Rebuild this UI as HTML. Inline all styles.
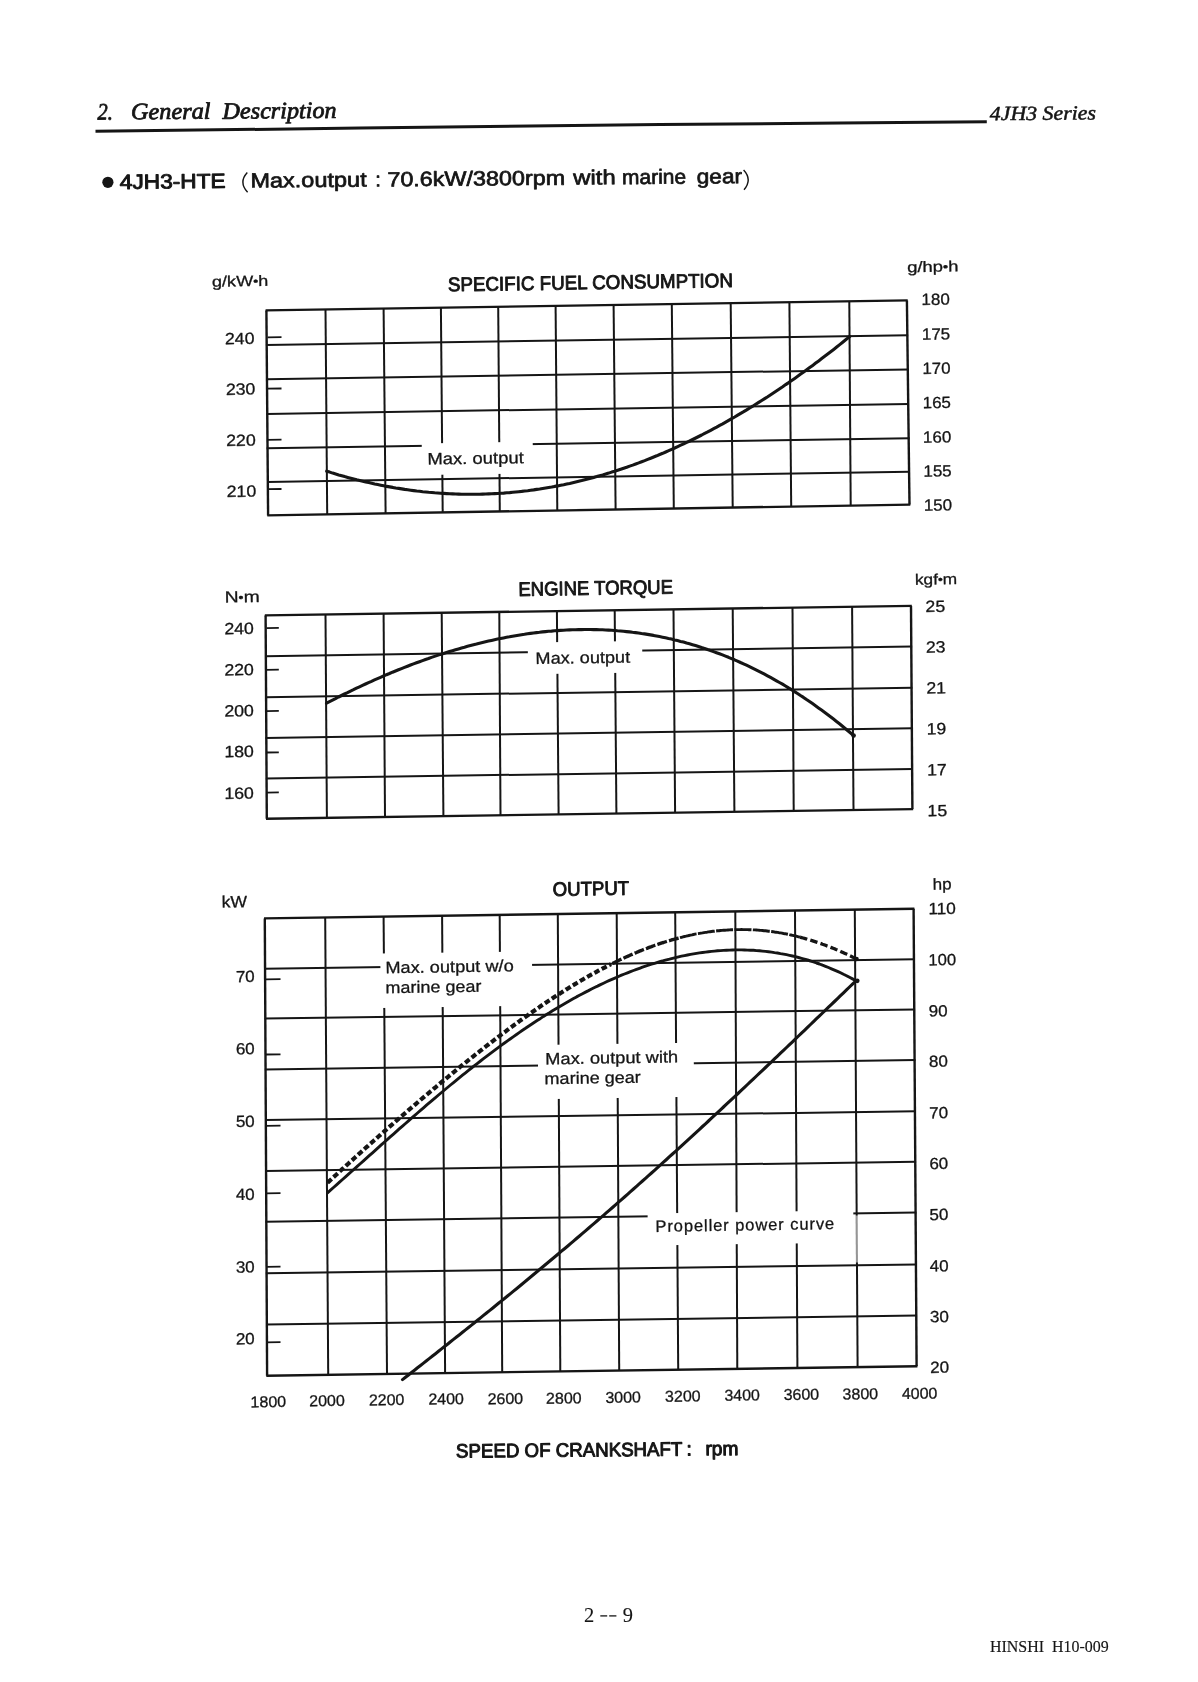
<!DOCTYPE html>
<html lang="en">
<head>
<meta charset="utf-8">
<title>4JH3 Series - General Description</title>
<style>
html,body{margin:0;padding:0;background:#fff;}
body{width:1198px;height:1682px;overflow:hidden;font-family:"Liberation Sans",sans-serif;}
svg{display:block;filter:grayscale(1);}
text{white-space:pre;}
</style>
</head>
<body>
<svg width="1198" height="1682" viewBox="0 0 1198 1682" stroke="#151515" fill="#151515">
<rect x="0" y="0" width="1198" height="1682" fill="#ffffff" stroke="none"/>
<g>
<text x="97.4" y="119.5" font-size="23.5" font-weight="normal" font-style="italic" stroke="#151515" stroke-width="0.8" stroke-linejoin="round" font-family="'Liberation Serif', sans-serif" text-anchor="start" textLength="15.4" lengthAdjust="spacingAndGlyphs" transform="rotate(-0.4 97.4 119.5)" >2.</text>
<text x="131.0" y="119.3" font-size="23.5" font-weight="normal" font-style="italic" stroke="#151515" stroke-width="0.8" stroke-linejoin="round" font-family="'Liberation Serif', sans-serif" text-anchor="start" textLength="79.6" lengthAdjust="spacingAndGlyphs" transform="rotate(-0.4 131.0 119.3)" >General</text>
<text x="222.6" y="118.7" font-size="23.5" font-weight="normal" font-style="italic" stroke="#151515" stroke-width="0.8" stroke-linejoin="round" font-family="'Liberation Serif', sans-serif" text-anchor="start" textLength="114.0" lengthAdjust="spacingAndGlyphs" transform="rotate(-0.4 222.6 118.7)" >Description</text>
<text x="989.8" y="120.2" font-size="20" font-weight="normal" font-style="italic" stroke="#151515" stroke-width="0.5" stroke-linejoin="round" font-family="'Liberation Serif', sans-serif" text-anchor="start" textLength="106.2" lengthAdjust="spacingAndGlyphs" transform="rotate(-0.4 989.8 120.2)" >4JH3 Series</text>
</g>
<polyline points="95.5,131.3 360,128.1 660,124.4 840,123.1 986.8,121.8" fill="none" stroke-width="3"/>
<circle cx="107.9" cy="182.3" r="5.6" stroke="none"/>
<text x="119.8" y="188.9" font-size="20.5" font-weight="normal" font-style="normal" stroke="#151515" stroke-width="0.95" stroke-linejoin="round" font-family="'Liberation Sans', sans-serif" text-anchor="start" textLength="105.9" lengthAdjust="spacingAndGlyphs" transform="rotate(-0.53 119.8 188.9)" >4JH3-HTE</text>
<text x="250.4" y="187.6" font-size="20.5" font-weight="normal" font-style="normal" stroke="#151515" stroke-width="0.7" stroke-linejoin="round" font-family="'Liberation Sans', sans-serif" text-anchor="start" textLength="116.3" lengthAdjust="spacingAndGlyphs" transform="rotate(-0.53 250.4 187.6)" >Max.output</text>
<text x="375.3" y="186.5" font-size="20.5" font-weight="normal" font-style="normal" stroke="#151515" stroke-width="0.7" stroke-linejoin="round" font-family="'Liberation Sans', sans-serif" text-anchor="start" transform="rotate(-0.53 375.3 186.5)" >:</text>
<text x="387.4" y="186.4" font-size="20.5" font-weight="normal" font-style="normal" stroke="#151515" stroke-width="0.7" stroke-linejoin="round" font-family="'Liberation Sans', sans-serif" text-anchor="start" textLength="177.9" lengthAdjust="spacingAndGlyphs" transform="rotate(-0.53 387.4 186.4)" >70.6kW/3800rpm</text>
<text x="573.3" y="184.6" font-size="20.5" font-weight="normal" font-style="normal" stroke="#151515" stroke-width="0.7" stroke-linejoin="round" font-family="'Liberation Sans', sans-serif" text-anchor="start" textLength="42.5" lengthAdjust="spacingAndGlyphs" transform="rotate(-0.53 573.3 184.6)" >with</text>
<text x="622.1" y="184.2" font-size="20.5" font-weight="normal" font-style="normal" stroke="#151515" stroke-width="0.7" stroke-linejoin="round" font-family="'Liberation Sans', sans-serif" text-anchor="start" textLength="64.1" lengthAdjust="spacingAndGlyphs" transform="rotate(-0.53 622.1 184.2)" >marine</text>
<text x="696.7" y="183.5" font-size="20.5" font-weight="normal" font-style="normal" stroke="#151515" stroke-width="0.7" stroke-linejoin="round" font-family="'Liberation Sans', sans-serif" text-anchor="start" textLength="45.4" lengthAdjust="spacingAndGlyphs" transform="rotate(-0.53 696.7 183.5)" >gear</text>
<path d="M247.3,172.5 Q238.3,182.2 247.6,192.3" fill="none" stroke-width="1.4"/>
<path d="M743.6,170.0 Q752.6,179.6 744.0,189.8" fill="none" stroke-width="1.4"/>
<line x1="266.4" y1="310.4" x2="268.1" y2="515.4" stroke-width="2.4" />
<line x1="325.5" y1="309.5" x2="327.2" y2="514.4" stroke-width="2.0" />
<line x1="383.6" y1="308.6" x2="385.6" y2="513.4" stroke-width="2.0" />
<line x1="440.9" y1="307.7" x2="442.7" y2="512.5" stroke-width="2.0" />
<line x1="498.2" y1="306.8" x2="499.8" y2="511.5" stroke-width="2.0" />
<line x1="555.6" y1="305.9" x2="557.3" y2="510.5" stroke-width="2.0" />
<line x1="613.6" y1="305.0" x2="615.6" y2="509.5" stroke-width="2.0" />
<line x1="671.8" y1="304.1" x2="673.8" y2="508.6" stroke-width="2.0" />
<line x1="730.7" y1="303.2" x2="732.7" y2="507.6" stroke-width="2.0" />
<line x1="789.4" y1="302.2" x2="791.2" y2="506.6" stroke-width="2.0" />
<line x1="849.3" y1="301.3" x2="850.7" y2="505.6" stroke-width="2.0" />
<line x1="906.9" y1="300.4" x2="909.5" y2="504.6" stroke-width="2.4" />
<line x1="265.6" y1="310.4" x2="907.7" y2="300.4" stroke-width="2.4" />
<line x1="265.9" y1="345.1" x2="908.1" y2="335.2" stroke-width="2.0" />
<line x1="266.2" y1="379.2" x2="908.6" y2="369.4" stroke-width="2.0" />
<line x1="266.5" y1="413.9" x2="909.0" y2="403.9" stroke-width="2.0" />
<line x1="266.7" y1="448.3" x2="909.5" y2="438.2" stroke-width="2.0" />
<line x1="267.0" y1="482.0" x2="909.9" y2="471.7" stroke-width="2.0" />
<line x1="267.3" y1="515.4" x2="910.3" y2="504.6" stroke-width="2.4" />
<rect x="421.7" y="443.4" width="111.0" height="31.6" fill="#fff" stroke="none" transform="rotate(-0.86 421.7 443.4)"/>
<line x1="267.5" y1="337.3" x2="281.5" y2="337.1" stroke-width="1.8" />
<line x1="267.5" y1="388.7" x2="281.5" y2="388.5" stroke-width="1.8" />
<line x1="267.5" y1="439.8" x2="281.5" y2="439.6" stroke-width="1.8" />
<line x1="267.5" y1="489.2" x2="281.5" y2="489.0" stroke-width="1.8" />
<path d="M326.7,471.2 L329.7,472.1 L332.7,473.1 L335.7,474.0 L338.7,474.9 L341.7,475.7 L344.7,476.6 L347.7,477.4 L350.7,478.2 L353.7,479.0 L356.7,479.8 L359.7,480.5 L362.7,481.2 L365.7,481.9 L368.7,482.6 L371.7,483.3 L374.7,484.0 L377.7,484.6 L380.7,485.2 L383.7,485.8 L386.7,486.4 L389.7,486.9 L392.7,487.4 L395.7,488.0 L398.7,488.4 L401.7,488.9 L404.7,489.4 L407.7,489.8 L410.7,490.2 L413.7,490.6 L416.7,491.0 L419.7,491.3 L422.7,491.7 L425.7,492.0 L428.7,492.3 L431.7,492.5 L434.7,492.8 L437.7,493.0 L440.7,493.2 L443.7,493.4 L446.7,493.6 L449.7,493.8 L452.7,493.9 L455.7,494.0 L458.7,494.1 L461.7,494.2 L464.7,494.2 L467.7,494.3 L470.7,494.3 L473.7,494.3 L476.7,494.2 L479.7,494.2 L482.7,494.1 L485.7,494.0 L488.7,493.9 L491.7,493.8 L494.7,493.6 L497.7,493.5 L500.7,493.3 L503.7,493.1 L506.7,492.8 L509.7,492.6 L512.7,492.3 L515.7,492.0 L518.7,491.7 L521.7,491.4 L524.7,491.0 L527.7,490.7 L530.7,490.3 L533.7,489.9 L536.7,489.4 L539.7,489.0 L542.7,488.5 L545.7,488.0 L548.7,487.5 L551.7,487.0 L554.7,486.4 L557.7,485.9 L560.7,485.3 L563.7,484.7 L566.7,484.0 L569.7,483.4 L572.7,482.7 L575.7,482.0 L578.7,481.3 L581.7,480.6 L584.7,479.8 L587.7,479.0 L590.7,478.2 L593.7,477.4 L596.7,476.6 L599.7,475.7 L602.7,474.9 L605.7,474.0 L608.7,473.1 L611.7,472.1 L614.7,471.2 L617.7,470.2 L620.7,469.2 L623.7,468.2 L626.7,467.2 L629.7,466.1 L632.7,465.1 L635.7,464.0 L638.7,462.9 L641.7,461.7 L644.7,460.6 L647.7,459.4 L650.7,458.2 L653.7,457.0 L656.7,455.8 L659.7,454.5 L662.7,453.3 L665.7,452.0 L668.7,450.7 L671.7,449.3 L674.7,448.0 L677.7,446.6 L680.7,445.2 L683.7,443.8 L686.7,442.4 L689.7,441.0 L692.7,439.5 L695.7,438.0 L698.7,436.5 L701.7,435.0 L704.7,433.4 L707.7,431.9 L710.7,430.3 L713.7,428.7 L716.7,427.1 L719.7,425.4 L722.7,423.8 L725.7,422.1 L728.7,420.4 L731.7,418.7 L734.7,417.0 L737.7,415.2 L740.7,413.4 L743.7,411.7 L746.7,409.9 L749.7,408.0 L752.7,406.2 L755.7,404.3 L758.7,402.4 L761.7,400.5 L764.7,398.6 L767.7,396.7 L770.7,394.7 L773.7,392.7 L776.7,390.7 L779.7,388.7 L782.7,386.7 L785.7,384.6 L788.7,382.6 L791.7,380.5 L794.7,378.4 L797.7,376.3 L800.7,374.1 L803.7,372.0 L806.7,369.8 L809.7,367.6 L812.7,365.4 L815.7,363.1 L818.7,360.9 L821.7,358.6 L824.7,356.3 L827.7,354.0 L830.7,351.7 L833.7,349.4 L836.7,347.0 L839.7,344.6 L842.7,342.2 L845.7,339.8 L848.7,337.4 L849.8,336.5" fill="none" stroke-width="3.1" stroke-linejoin="round" stroke-linecap="round"/>
<text x="225.0" y="344.3" font-size="16.3" font-weight="normal" font-style="normal" stroke="#151515" stroke-width="0.3" stroke-linejoin="round" font-family="'Liberation Sans', sans-serif" text-anchor="start" textLength="29.6" lengthAdjust="spacingAndGlyphs" transform="rotate(-0.86 225.0 344.3)" >240</text>
<text x="225.9" y="394.9" font-size="16.3" font-weight="normal" font-style="normal" stroke="#151515" stroke-width="0.3" stroke-linejoin="round" font-family="'Liberation Sans', sans-serif" text-anchor="start" textLength="29.6" lengthAdjust="spacingAndGlyphs" transform="rotate(-0.86 225.9 394.9)" >230</text>
<text x="226.2" y="446.1" font-size="16.3" font-weight="normal" font-style="normal" stroke="#151515" stroke-width="0.3" stroke-linejoin="round" font-family="'Liberation Sans', sans-serif" text-anchor="start" textLength="29.6" lengthAdjust="spacingAndGlyphs" transform="rotate(-0.86 226.2 446.1)" >220</text>
<text x="226.7" y="497.1" font-size="16.3" font-weight="normal" font-style="normal" stroke="#151515" stroke-width="0.3" stroke-linejoin="round" font-family="'Liberation Sans', sans-serif" text-anchor="start" textLength="29.6" lengthAdjust="spacingAndGlyphs" transform="rotate(-0.86 226.7 497.1)" >210</text>
<text x="921.6" y="305.1" font-size="16.3" font-weight="normal" font-style="normal" stroke="#151515" stroke-width="0.3" stroke-linejoin="round" font-family="'Liberation Sans', sans-serif" text-anchor="start" textLength="28.2" lengthAdjust="spacingAndGlyphs" transform="rotate(-0.86 921.6 305.1)" >180</text>
<text x="922.0" y="339.8" font-size="16.3" font-weight="normal" font-style="normal" stroke="#151515" stroke-width="0.3" stroke-linejoin="round" font-family="'Liberation Sans', sans-serif" text-anchor="start" textLength="28.2" lengthAdjust="spacingAndGlyphs" transform="rotate(-0.86 922.0 339.8)" >175</text>
<text x="922.4" y="374.1" font-size="16.3" font-weight="normal" font-style="normal" stroke="#151515" stroke-width="0.3" stroke-linejoin="round" font-family="'Liberation Sans', sans-serif" text-anchor="start" textLength="28.2" lengthAdjust="spacingAndGlyphs" transform="rotate(-0.86 922.4 374.1)" >170</text>
<text x="922.8" y="408.3" font-size="16.3" font-weight="normal" font-style="normal" stroke="#151515" stroke-width="0.3" stroke-linejoin="round" font-family="'Liberation Sans', sans-serif" text-anchor="start" textLength="28.2" lengthAdjust="spacingAndGlyphs" transform="rotate(-0.86 922.8 408.3)" >165</text>
<text x="923.1" y="442.8" font-size="16.3" font-weight="normal" font-style="normal" stroke="#151515" stroke-width="0.3" stroke-linejoin="round" font-family="'Liberation Sans', sans-serif" text-anchor="start" textLength="28.2" lengthAdjust="spacingAndGlyphs" transform="rotate(-0.86 923.1 442.8)" >160</text>
<text x="923.5" y="476.7" font-size="16.3" font-weight="normal" font-style="normal" stroke="#151515" stroke-width="0.3" stroke-linejoin="round" font-family="'Liberation Sans', sans-serif" text-anchor="start" textLength="28.2" lengthAdjust="spacingAndGlyphs" transform="rotate(-0.86 923.5 476.7)" >155</text>
<text x="923.9" y="510.8" font-size="16.3" font-weight="normal" font-style="normal" stroke="#151515" stroke-width="0.3" stroke-linejoin="round" font-family="'Liberation Sans', sans-serif" text-anchor="start" textLength="28.2" lengthAdjust="spacingAndGlyphs" transform="rotate(-0.86 923.9 510.8)" >150</text>
<text x="212.0" y="286.7" font-size="15" font-weight="normal" font-style="normal" stroke="#151515" stroke-width="0.3" stroke-linejoin="round" font-family="'Liberation Sans', sans-serif" text-anchor="start" textLength="56.4" lengthAdjust="spacingAndGlyphs" transform="rotate(-0.86 212.0 286.7)" >g/kW<tspan font-size="12" dy="-0.9">&#8226;</tspan><tspan dy="0.9">h</tspan></text>
<text x="907.2" y="272.2" font-size="15" font-weight="normal" font-style="normal" stroke="#151515" stroke-width="0.3" stroke-linejoin="round" font-family="'Liberation Sans', sans-serif" text-anchor="start" textLength="51.4" lengthAdjust="spacingAndGlyphs" transform="rotate(-0.86 907.2 272.2)" >g/hp<tspan font-size="12" dy="-0.9">&#8226;</tspan><tspan dy="0.9">h</tspan></text>
<text x="448.0" y="291.3" font-size="19.6" font-weight="normal" font-style="normal" stroke="#151515" stroke-width="0.9" stroke-linejoin="round" font-family="'Liberation Sans', sans-serif" text-anchor="start" textLength="285.0" lengthAdjust="spacingAndGlyphs" transform="rotate(-0.86 448.0 291.3)" >SPECIFIC FUEL CONSUMPTION</text>
<text x="427.5" y="464.6" font-size="16.5" font-weight="normal" font-style="normal" stroke="#151515" stroke-width="0.3" stroke-linejoin="round" font-family="'Liberation Sans', sans-serif" text-anchor="start" textLength="96.4" lengthAdjust="spacingAndGlyphs" transform="rotate(-0.86 427.5 464.6)" >Max. output</text>
<line x1="265.6" y1="615.4" x2="266.8" y2="818.8" stroke-width="2.4" />
<line x1="325.5" y1="614.5" x2="326.9" y2="817.9" stroke-width="2.0" />
<line x1="383.6" y1="613.7" x2="385.0" y2="817.0" stroke-width="2.0" />
<line x1="441.7" y1="612.8" x2="443.4" y2="816.1" stroke-width="2.0" />
<line x1="499.3" y1="612.0" x2="500.5" y2="815.3" stroke-width="2.0" />
<line x1="556.9" y1="611.1" x2="558.6" y2="814.4" stroke-width="2.0" />
<line x1="614.7" y1="610.3" x2="616.4" y2="813.5" stroke-width="2.0" />
<line x1="673.5" y1="609.4" x2="675.1" y2="812.7" stroke-width="2.0" />
<line x1="732.7" y1="608.5" x2="734.4" y2="811.8" stroke-width="2.0" />
<line x1="792.5" y1="607.6" x2="793.7" y2="810.9" stroke-width="2.0" />
<line x1="852.1" y1="606.8" x2="853.5" y2="810.0" stroke-width="2.0" />
<line x1="911.0" y1="605.9" x2="912.4" y2="809.1" stroke-width="2.4" />
<line x1="264.8" y1="615.4" x2="911.8" y2="605.9" stroke-width="2.4" />
<line x1="265.0" y1="656.3" x2="912.1" y2="646.5" stroke-width="2.0" />
<line x1="265.3" y1="697.2" x2="912.4" y2="687.7" stroke-width="2.0" />
<line x1="265.5" y1="738.0" x2="912.6" y2="728.3" stroke-width="2.0" />
<line x1="265.8" y1="778.4" x2="912.9" y2="769.0" stroke-width="2.0" />
<line x1="266.0" y1="818.8" x2="913.2" y2="809.1" stroke-width="2.4" />
<rect x="527.7" y="642.6" width="114.4" height="31.6" fill="#fff" stroke="none" transform="rotate(-0.86 527.7 642.6)"/>
<line x1="266.5" y1="628.1" x2="278.8" y2="627.9" stroke-width="1.8" />
<line x1="266.5" y1="669.8" x2="278.8" y2="669.6" stroke-width="1.8" />
<line x1="266.5" y1="711.1" x2="278.8" y2="710.9" stroke-width="1.8" />
<line x1="266.5" y1="752.5" x2="278.8" y2="752.3" stroke-width="1.8" />
<line x1="266.5" y1="792.6" x2="278.8" y2="792.4" stroke-width="1.8" />
<path d="M326.5,703.2 L329.5,701.6 L332.5,700.1 L335.5,698.6 L338.5,697.0 L341.5,695.5 L344.5,694.0 L347.5,692.6 L350.5,691.1 L353.5,689.7 L356.5,688.2 L359.5,686.8 L362.5,685.4 L365.5,684.0 L368.5,682.6 L371.5,681.3 L374.5,679.9 L377.5,678.6 L380.5,677.3 L383.5,676.0 L386.5,674.7 L389.5,673.5 L392.5,672.2 L395.5,671.0 L398.5,669.8 L401.5,668.6 L404.5,667.4 L407.5,666.2 L410.5,665.0 L413.5,663.9 L416.5,662.8 L419.5,661.7 L422.5,660.6 L425.5,659.5 L428.5,658.5 L431.5,657.4 L434.5,656.4 L437.5,655.4 L440.5,654.4 L443.5,653.5 L446.5,652.5 L449.5,651.6 L452.5,650.7 L455.5,649.8 L458.5,648.9 L461.5,648.0 L464.5,647.2 L467.5,646.3 L470.5,645.5 L473.5,644.7 L476.5,644.0 L479.5,643.2 L482.5,642.5 L485.5,641.8 L488.5,641.1 L491.5,640.4 L494.5,639.7 L497.5,639.1 L500.5,638.5 L503.5,637.9 L506.5,637.3 L509.5,636.8 L512.5,636.2 L515.5,635.7 L518.5,635.2 L521.5,634.7 L524.5,634.3 L527.5,633.8 L530.5,633.4 L533.5,633.0 L536.5,632.6 L539.5,632.3 L542.5,631.9 L545.5,631.6 L548.5,631.3 L551.5,631.1 L554.5,630.8 L557.5,630.6 L560.5,630.4 L563.5,630.2 L566.5,630.0 L569.5,629.9 L572.5,629.8 L575.5,629.7 L578.5,629.6 L581.5,629.6 L584.5,629.5 L587.5,629.5 L590.5,629.5 L593.5,629.6 L596.5,629.6 L599.5,629.7 L602.5,629.8 L605.5,630.0 L608.5,630.1 L611.5,630.3 L614.5,630.5 L617.5,630.8 L620.5,631.0 L623.5,631.3 L626.5,631.6 L629.5,631.9 L632.5,632.3 L635.5,632.6 L638.5,633.0 L641.5,633.5 L644.5,633.9 L647.5,634.4 L650.5,634.9 L653.5,635.4 L656.5,636.0 L659.5,636.6 L662.5,637.2 L665.5,637.8 L668.5,638.5 L671.5,639.1 L674.5,639.9 L677.5,640.6 L680.5,641.4 L683.5,642.1 L686.5,643.0 L689.5,643.8 L692.5,644.7 L695.5,645.6 L698.5,646.5 L701.5,647.5 L704.5,648.4 L707.5,649.5 L710.5,650.5 L713.5,651.6 L716.5,652.7 L719.5,653.8 L722.5,654.9 L725.5,656.1 L728.5,657.3 L731.5,658.6 L734.5,659.8 L737.5,661.1 L740.5,662.5 L743.5,663.8 L746.5,665.2 L749.5,666.6 L752.5,668.1 L755.5,669.6 L758.5,671.1 L761.5,672.6 L764.5,674.2 L767.5,675.8 L770.5,677.4 L773.5,679.1 L776.5,680.8 L779.5,682.5 L782.5,684.2 L785.5,686.0 L788.5,687.9 L791.5,689.7 L794.5,691.6 L797.5,693.5 L800.5,695.5 L803.5,697.4 L806.5,699.5 L809.5,701.5 L812.5,703.6 L815.5,705.7 L818.5,707.9 L821.5,710.0 L824.5,712.2 L827.5,714.5 L830.5,716.8 L833.5,719.1 L836.5,721.4 L839.5,723.8 L842.5,726.3 L845.5,728.7 L848.5,731.2 L851.5,733.7 L853.0,735.0" fill="none" stroke-width="3.1" stroke-linejoin="round" stroke-linecap="round"/>
<circle cx="853.6" cy="735.6" r="2.3" stroke="none"/>
<text x="224.4" y="634.3" font-size="16.3" font-weight="normal" font-style="normal" stroke="#151515" stroke-width="0.3" stroke-linejoin="round" font-family="'Liberation Sans', sans-serif" text-anchor="start" textLength="29.6" lengthAdjust="spacingAndGlyphs" transform="rotate(-0.86 224.4 634.3)" >240</text>
<text x="224.4" y="675.5" font-size="16.3" font-weight="normal" font-style="normal" stroke="#151515" stroke-width="0.3" stroke-linejoin="round" font-family="'Liberation Sans', sans-serif" text-anchor="start" textLength="29.6" lengthAdjust="spacingAndGlyphs" transform="rotate(-0.86 224.4 675.5)" >220</text>
<text x="224.4" y="716.6" font-size="16.3" font-weight="normal" font-style="normal" stroke="#151515" stroke-width="0.3" stroke-linejoin="round" font-family="'Liberation Sans', sans-serif" text-anchor="start" textLength="29.6" lengthAdjust="spacingAndGlyphs" transform="rotate(-0.86 224.4 716.6)" >200</text>
<text x="224.4" y="757.3" font-size="16.3" font-weight="normal" font-style="normal" stroke="#151515" stroke-width="0.3" stroke-linejoin="round" font-family="'Liberation Sans', sans-serif" text-anchor="start" textLength="29.6" lengthAdjust="spacingAndGlyphs" transform="rotate(-0.86 224.4 757.3)" >180</text>
<text x="224.4" y="799.1" font-size="16.3" font-weight="normal" font-style="normal" stroke="#151515" stroke-width="0.3" stroke-linejoin="round" font-family="'Liberation Sans', sans-serif" text-anchor="start" textLength="29.6" lengthAdjust="spacingAndGlyphs" transform="rotate(-0.86 224.4 799.1)" >160</text>
<text x="925.6" y="612.1" font-size="16.3" font-weight="normal" font-style="normal" stroke="#151515" stroke-width="0.3" stroke-linejoin="round" font-family="'Liberation Sans', sans-serif" text-anchor="start" textLength="19.6" lengthAdjust="spacingAndGlyphs" transform="rotate(-0.86 925.6 612.1)" >25</text>
<text x="926.0" y="652.7" font-size="16.3" font-weight="normal" font-style="normal" stroke="#151515" stroke-width="0.3" stroke-linejoin="round" font-family="'Liberation Sans', sans-serif" text-anchor="start" textLength="19.6" lengthAdjust="spacingAndGlyphs" transform="rotate(-0.86 926.0 652.7)" >23</text>
<text x="926.4" y="693.6" font-size="16.3" font-weight="normal" font-style="normal" stroke="#151515" stroke-width="0.3" stroke-linejoin="round" font-family="'Liberation Sans', sans-serif" text-anchor="start" textLength="19.6" lengthAdjust="spacingAndGlyphs" transform="rotate(-0.86 926.4 693.6)" >21</text>
<text x="926.8" y="734.5" font-size="16.3" font-weight="normal" font-style="normal" stroke="#151515" stroke-width="0.3" stroke-linejoin="round" font-family="'Liberation Sans', sans-serif" text-anchor="start" textLength="19.6" lengthAdjust="spacingAndGlyphs" transform="rotate(-0.86 926.8 734.5)" >19</text>
<text x="927.2" y="775.4" font-size="16.3" font-weight="normal" font-style="normal" stroke="#151515" stroke-width="0.3" stroke-linejoin="round" font-family="'Liberation Sans', sans-serif" text-anchor="start" textLength="19.6" lengthAdjust="spacingAndGlyphs" transform="rotate(-0.86 927.2 775.4)" >17</text>
<text x="927.6" y="816.3" font-size="16.3" font-weight="normal" font-style="normal" stroke="#151515" stroke-width="0.3" stroke-linejoin="round" font-family="'Liberation Sans', sans-serif" text-anchor="start" textLength="19.6" lengthAdjust="spacingAndGlyphs" transform="rotate(-0.86 927.6 816.3)" >15</text>
<text x="224.7" y="602.6" font-size="16" font-weight="normal" font-style="normal" stroke="#151515" stroke-width="0.3" stroke-linejoin="round" font-family="'Liberation Sans', sans-serif" text-anchor="start" textLength="35.1" lengthAdjust="spacingAndGlyphs" transform="rotate(-0.86 224.7 602.6)" >N<tspan font-size="12" dy="-0.9">&#8226;</tspan><tspan dy="0.9">m</tspan></text>
<text x="914.9" y="584.7" font-size="15" font-weight="normal" font-style="normal" stroke="#151515" stroke-width="0.3" stroke-linejoin="round" font-family="'Liberation Sans', sans-serif" text-anchor="start" textLength="42.4" lengthAdjust="spacingAndGlyphs" transform="rotate(-0.86 914.9 584.7)" >kgf<tspan font-size="12" dy="-0.9">&#8226;</tspan><tspan dy="0.9">m</tspan></text>
<text x="518.5" y="595.9" font-size="19.6" font-weight="normal" font-style="normal" stroke="#151515" stroke-width="0.9" stroke-linejoin="round" font-family="'Liberation Sans', sans-serif" text-anchor="start" textLength="154.6" lengthAdjust="spacingAndGlyphs" transform="rotate(-0.86 518.5 595.9)" >ENGINE TORQUE</text>
<text x="535.6" y="664.0" font-size="16.5" font-weight="normal" font-style="normal" stroke="#151515" stroke-width="0.3" stroke-linejoin="round" font-family="'Liberation Sans', sans-serif" text-anchor="start" textLength="94.6" lengthAdjust="spacingAndGlyphs" transform="rotate(-0.86 535.6 664.0)" >Max. output</text>
<line x1="264.8" y1="918.4" x2="267.1" y2="1375.7" stroke-width="2.4" />
<line x1="325.2" y1="917.5" x2="328.2" y2="1374.8" stroke-width="2.0" />
<line x1="383.6" y1="916.6" x2="387.0" y2="1373.9" stroke-width="2.0" />
<line x1="442.1" y1="915.7" x2="445.1" y2="1373.1" stroke-width="2.0" />
<line x1="499.7" y1="914.9" x2="502.2" y2="1372.3" stroke-width="2.0" />
<line x1="557.8" y1="914.0" x2="560.3" y2="1371.4" stroke-width="2.0" />
<line x1="616.7" y1="913.1" x2="619.2" y2="1370.5" stroke-width="2.0" />
<line x1="675.2" y1="912.3" x2="678.2" y2="1369.7" stroke-width="2.0" />
<line x1="735.3" y1="911.4" x2="737.3" y2="1368.8" stroke-width="2.0" />
<line x1="795.0" y1="910.5" x2="797.4" y2="1367.9" stroke-width="2.0" />
<line x1="854.8" y1="909.6" x2="857.6" y2="1367.1" stroke-width="2.0" />
<line x1="913.6" y1="908.7" x2="916.6" y2="1366.2" stroke-width="2.4" />
<line x1="264.0" y1="918.4" x2="914.4" y2="908.7" stroke-width="2.4" />
<line x1="264.3" y1="968.8" x2="914.7" y2="959.3" stroke-width="2.0" />
<line x1="264.5" y1="1018.6" x2="915.1" y2="1009.4" stroke-width="2.0" />
<line x1="264.8" y1="1069.5" x2="915.4" y2="1060.0" stroke-width="2.0" />
<line x1="265.0" y1="1120.1" x2="915.7" y2="1111.3" stroke-width="2.0" />
<line x1="265.3" y1="1170.9" x2="916.1" y2="1161.7" stroke-width="2.0" />
<line x1="265.5" y1="1221.8" x2="916.4" y2="1212.6" stroke-width="2.0" />
<line x1="265.8" y1="1273.2" x2="916.7" y2="1264.4" stroke-width="2.0" />
<line x1="266.0" y1="1324.5" x2="917.1" y2="1315.6" stroke-width="2.0" />
<line x1="266.3" y1="1375.7" x2="917.4" y2="1366.2" stroke-width="2.4" />
<rect x="380.2" y="953.6" width="151.7" height="54.4" fill="#fff" stroke="none" transform="rotate(-0.86 380.2 953.6)"/>
<rect x="537.7" y="1045.0" width="155.8" height="54.2" fill="#fff" stroke="none" transform="rotate(-0.86 537.7 1045.0)"/>
<rect x="647.6" y="1213.5" width="205.7" height="32.1" fill="#fff" stroke="none" transform="rotate(-0.86 647.6 1213.5)"/>
<line x1="266.0" y1="979.4" x2="280.5" y2="979.2" stroke-width="1.8" />
<line x1="266.0" y1="1054.5" x2="280.5" y2="1054.3" stroke-width="1.8" />
<line x1="266.0" y1="1125.8" x2="280.5" y2="1125.6" stroke-width="1.8" />
<line x1="266.0" y1="1193.4" x2="280.5" y2="1193.2" stroke-width="1.8" />
<line x1="266.0" y1="1266.9" x2="280.5" y2="1266.7" stroke-width="1.8" />
<line x1="266.0" y1="1342.4" x2="280.5" y2="1342.2" stroke-width="1.8" />
<path d="M327.5,1182.8 L329.0,1181.4 L330.5,1180.0 L332.0,1178.6 L333.5,1177.2 L335.0,1175.8 L336.5,1174.5 L338.0,1173.1 L339.5,1171.7 L341.0,1170.3 L342.5,1168.9 L344.0,1167.6 L345.5,1166.2 L347.0,1164.8 L348.5,1163.5 L350.0,1162.1 L351.5,1160.7 L353.0,1159.4 L354.5,1158.0 L356.0,1156.7 L357.5,1155.3 L359.0,1153.9 L360.5,1152.6 L362.0,1151.2 L363.5,1149.9 L365.0,1148.5 L366.5,1147.2 L368.0,1145.9 L369.5,1144.5 L371.0,1143.2 L372.5,1141.8 L374.0,1140.5 L375.5,1139.2 L377.0,1137.8 L378.5,1136.5 L380.0,1135.2 L381.5,1133.8 L383.0,1132.5 L384.5,1131.2 L386.0,1129.9 L387.5,1128.5 L389.0,1127.2 L390.5,1125.9 L392.0,1124.6 L393.5,1123.3 L395.0,1122.0 L396.5,1120.7 L398.0,1119.3 L399.5,1118.0 L401.0,1116.7 L402.5,1115.4 L404.0,1114.1 L405.5,1112.8 L407.0,1111.5 L408.5,1110.2 L410.0,1108.9 L411.5,1107.7 L413.0,1106.4 L414.5,1105.1 L416.0,1103.8 L417.5,1102.5 L419.0,1101.2 L420.5,1099.9 L422.0,1098.7 L423.5,1097.4 L425.0,1096.1 L426.5,1094.8 L428.0,1093.6 L429.5,1092.3 L431.0,1091.0 L432.5,1089.8 L434.0,1088.5 L435.5,1087.3 L437.0,1086.0 L438.5,1084.7 L440.0,1083.5 L441.5,1082.2 L443.0,1081.0 L444.5,1079.8 L446.0,1078.5 L447.5,1077.3 L449.0,1076.0 L450.5,1074.8 L452.0,1073.6 L453.5,1072.3 L455.0,1071.1 L456.5,1069.9 L458.0,1068.7 L459.5,1067.4 L461.0,1066.2 L462.5,1065.0 L464.0,1063.8 L465.5,1062.6 L467.0,1061.4 L468.5,1060.2 L470.0,1059.0 L471.5,1057.8 L473.0,1056.6 L474.5,1055.4 L476.0,1054.2 L477.5,1053.0 L479.0,1051.8 L480.5,1050.6 L482.0,1049.5 L483.5,1048.3 L485.0,1047.1 L486.5,1045.9 L488.0,1044.8 L489.5,1043.6 L491.0,1042.5 L492.5,1041.3 L494.0,1040.1 L495.5,1039.0 L497.0,1037.9 L498.5,1036.7 L500.0,1035.6 L501.5,1034.4 L503.0,1033.3 L504.5,1032.2 L506.0,1031.1 L507.5,1029.9 L509.0,1028.8 L510.5,1027.7 L512.0,1026.6 L513.5,1025.5 L515.0,1024.4 L516.5,1023.3 L518.0,1022.2 L519.5,1021.1 L521.0,1020.0 L522.5,1019.0 L524.0,1017.9 L525.5,1016.8 L527.0,1015.7 L528.5,1014.7 L530.0,1013.6 L531.5,1012.6 L533.0,1011.5 L534.5,1010.5 L536.0,1009.4 L537.5,1008.4 L539.0,1007.4 L540.5,1006.3 L542.0,1005.3 L543.5,1004.3 L545.0,1003.3 L546.5,1002.3 L548.0,1001.3 L549.5,1000.3 L551.0,999.3 L552.5,998.3 L554.0,997.3 L555.5,996.3 L557.0,995.4 L558.5,994.4 L560.0,993.4 L561.5,992.5 L563.0,991.5 L564.5,990.6 L566.0,989.6 L567.5,988.7 L569.0,987.8 L570.5,986.9 L572.0,985.9 L573.5,985.0 L575.0,984.1 L576.5,983.2 L578.0,982.3 L579.5,981.4 L581.0,980.5 L582.5,979.7 L584.0,978.8 L585.5,977.9 L587.0,977.1 L588.5,976.2 L590.0,975.4 L591.5,974.5 L593.0,973.7 L594.5,972.9 L596.0,972.1 L597.5,971.2 L599.0,970.4 L600.5,969.6 L602.0,968.8 L603.5,968.0 L605.0,967.3 L606.5,966.5 L608.0,965.7 L609.5,965.0 L611.0,964.2" fill="none" stroke-width="4.2" stroke-linejoin="round" stroke-dasharray="5.6 2.7" stroke-linecap="butt"/>
<path d="M612.5,963.5 L614.0,962.7 L615.5,962.0 L617.0,961.3 L618.5,960.5 L620.0,959.8 L621.5,959.1 L623.0,958.4 L624.5,957.7 L626.0,957.0 L627.5,956.4 L629.0,955.7 L630.5,955.0 L632.0,954.4 L633.5,953.7 L635.0,953.1 L636.5,952.5 L638.0,951.8 L639.5,951.2 L641.0,950.6 L642.5,950.0 L644.0,949.4 L645.5,948.8 L647.0,948.3 L648.5,947.7 L650.0,947.1 L651.5,946.6 L653.0,946.0 L654.5,945.5 L656.0,945.0 L657.5,944.5 L659.0,943.9 L660.5,943.4 L662.0,942.9 L663.5,942.5 L665.0,942.0 L666.5,941.5 L668.0,941.0 L669.5,940.6 L671.0,940.2 L672.5,939.7 L674.0,939.3 L675.5,938.9 L677.0,938.5 L678.5,938.1 L680.0,937.7" fill="none" stroke-width="3.4" stroke-linejoin="round" stroke-dasharray="10 2.2" stroke-linecap="butt"/>
<path d="M680.0,937.7 L681.5,937.3 L683.0,936.9 L684.5,936.5 L686.0,936.2 L687.5,935.8 L689.0,935.5 L690.5,935.2 L692.0,934.9 L693.5,934.5 L695.0,934.2 L696.5,933.9 L698.0,933.7 L699.5,933.4 L701.0,933.1 L702.5,932.9 L704.0,932.6 L705.5,932.4 L707.0,932.2 L708.5,931.9 L710.0,931.7 L711.5,931.5 L713.0,931.3 L714.5,931.2 L716.0,931.0 L717.5,930.8 L719.0,930.7 L720.5,930.5 L722.0,930.4 L723.5,930.3 L725.0,930.2 L726.5,930.1 L728.0,930.0 L729.5,929.9 L731.0,929.8 L732.5,929.7 L734.0,929.7 L735.5,929.6 L737.0,929.6 L738.5,929.6 L740.0,929.6 L741.5,929.5 L743.0,929.6 L744.5,929.6 L746.0,929.6 L747.5,929.6 L749.0,929.7 L750.5,929.7 L752.0,929.8 L753.5,929.9 L755.0,929.9 L756.5,930.0 L758.0,930.1 L759.5,930.3 L761.0,930.4 L762.5,930.5 L764.0,930.7 L765.5,930.8 L767.0,931.0 L768.5,931.2 L770.0,931.3 L771.5,931.5 L773.0,931.7 L774.5,932.0 L776.0,932.2 L777.5,932.4 L779.0,932.7 L780.5,932.9 L782.0,933.2 L783.5,933.5 L785.0,933.7 L786.5,934.0 L788.0,934.3 L789.5,934.7 L791.0,935.0 L792.5,935.3 L794.0,935.7 L795.5,936.0 L797.0,936.4 L798.5,936.8 L800.0,937.2" fill="none" stroke-width="2.9" stroke-linejoin="round" stroke-dasharray="17 1.4" stroke-linecap="butt"/>
<path d="M800.0,937.2 L801.5,937.6 L803.0,938.0 L804.5,938.4 L806.0,938.8 L807.5,939.3 L809.0,939.7 L810.5,940.2 L812.0,940.6 L813.5,941.1 L815.0,941.6 L816.5,942.1 L818.0,942.6 L819.5,943.1 L821.0,943.6 L822.5,944.2 L824.0,944.7 L825.5,945.3 L827.0,945.9 L828.5,946.4 L830.0,947.0 L831.5,947.6 L833.0,948.2 L834.5,948.8 L836.0,949.5 L837.5,950.1 L839.0,950.7 L840.5,951.4 L842.0,952.1 L843.5,952.7 L845.0,953.4 L846.5,954.1 L848.0,954.8 L849.5,955.5 L851.0,956.2 L852.5,957.0 L854.0,957.7 L855.4,958.4" fill="none" stroke-width="3.3" stroke-linejoin="round" stroke-dasharray="7.5 3.2" stroke-linecap="butt"/>
<path d="M327.5,1192.8 L330.5,1190.2 L333.5,1187.5 L336.5,1184.9 L339.5,1182.2 L342.5,1179.5 L345.5,1176.9 L348.5,1174.2 L351.5,1171.5 L354.5,1168.9 L357.5,1166.2 L360.5,1163.5 L363.5,1160.8 L366.5,1158.1 L369.5,1155.4 L372.5,1152.8 L375.5,1150.1 L378.5,1147.4 L381.5,1144.7 L384.5,1142.0 L387.5,1139.4 L390.5,1136.7 L393.5,1134.1 L396.5,1131.4 L399.5,1128.7 L402.5,1126.1 L405.5,1123.5 L408.5,1120.8 L411.5,1118.2 L414.5,1115.6 L417.5,1113.0 L420.5,1110.4 L423.5,1107.8 L426.5,1105.2 L429.5,1102.7 L432.5,1100.1 L435.5,1097.6 L438.5,1095.0 L441.5,1092.5 L444.5,1090.0 L447.5,1087.5 L450.5,1085.0 L453.5,1082.6 L456.5,1080.1 L459.5,1077.7 L462.5,1075.2 L465.5,1072.8 L468.5,1070.4 L471.5,1068.0 L474.5,1065.7 L477.5,1063.3 L480.5,1061.0 L483.5,1058.7 L486.5,1056.4 L489.5,1054.1 L492.5,1051.9 L495.5,1049.6 L498.5,1047.4 L501.5,1045.2 L504.5,1043.0 L507.5,1040.8 L510.5,1038.7 L513.5,1036.6 L516.5,1034.5 L519.5,1032.4 L522.5,1030.3 L525.5,1028.3 L528.5,1026.2 L531.5,1024.2 L534.5,1022.2 L537.5,1020.3 L540.5,1018.4 L543.5,1016.4 L546.5,1014.5 L549.5,1012.7 L552.5,1010.8 L555.5,1009.0 L558.5,1007.2 L561.5,1005.4 L564.5,1003.7 L567.5,1002.0 L570.5,1000.3 L573.5,998.6 L576.5,996.9 L579.5,995.3 L582.5,993.7 L585.5,992.1 L588.5,990.6 L591.5,989.0 L594.5,987.5 L597.5,986.1 L600.5,984.6 L603.5,983.2 L606.5,981.8 L609.5,980.4 L612.5,979.1 L615.5,977.8 L618.5,976.5 L621.5,975.2 L624.5,974.0 L627.5,972.8 L630.5,971.6 L633.5,970.5 L636.5,969.4 L639.5,968.3 L642.5,967.2 L645.5,966.2 L648.5,965.2 L651.5,964.2 L654.5,963.3 L657.5,962.4 L660.5,961.5 L663.5,960.7 L666.5,959.8 L669.5,959.1 L672.5,958.3 L675.5,957.6 L678.5,956.9 L681.5,956.2 L684.5,955.6 L687.5,955.0 L690.5,954.4 L693.5,953.9 L696.5,953.4 L699.5,952.9 L702.5,952.5 L705.5,952.1 L708.5,951.7 L711.5,951.4 L714.5,951.1 L717.5,950.8 L720.5,950.6 L723.5,950.4 L726.5,950.2 L729.5,950.1 L732.5,950.0 L735.5,949.9 L738.5,949.9 L741.5,949.9 L744.5,950.0 L747.5,950.1 L750.5,950.2 L753.5,950.3 L756.5,950.6 L759.5,950.8 L762.5,951.1 L765.5,951.4 L768.5,951.7 L771.5,952.1 L774.5,952.6 L777.5,953.0 L780.5,953.6 L783.5,954.1 L786.5,954.7 L789.5,955.3 L792.5,956.0 L795.5,956.7 L798.5,957.5 L801.5,958.3 L804.5,959.1 L807.5,960.0 L810.5,961.0 L813.5,961.9 L816.5,963.0 L819.5,964.0 L822.5,965.2 L825.5,966.3 L828.5,967.5 L831.5,968.8 L834.5,970.1 L837.5,971.4 L840.5,972.8 L843.5,974.3 L846.5,975.7 L849.5,977.3 L852.5,978.9 L855.5,980.5 L856.0,980.8" fill="none" stroke-width="2.9" stroke-linejoin="round" stroke-linecap="round"/>
<path d="M402.5,1379.6 L405.5,1377.2 L408.5,1374.9 L411.5,1372.5 L414.5,1370.2 L417.5,1367.8 L420.5,1365.5 L423.5,1363.1 L426.5,1360.8 L429.5,1358.4 L432.5,1356.0 L435.5,1353.7 L438.5,1351.3 L441.5,1348.9 L444.5,1346.6 L447.5,1344.2 L450.5,1341.8 L453.5,1339.4 L456.5,1337.0 L459.5,1334.7 L462.5,1332.3 L465.5,1329.9 L468.5,1327.5 L471.5,1325.1 L474.5,1322.7 L477.5,1320.3 L480.5,1317.9 L483.5,1315.4 L486.5,1313.0 L489.5,1310.6 L492.5,1308.2 L495.5,1305.8 L498.5,1303.3 L501.5,1300.9 L504.5,1298.5 L507.5,1296.0 L510.5,1293.6 L513.5,1291.1 L516.5,1288.7 L519.5,1286.2 L522.5,1283.7 L525.5,1281.3 L528.5,1278.8 L531.5,1276.3 L534.5,1273.8 L537.5,1271.3 L540.5,1268.8 L543.5,1266.3 L546.5,1263.8 L549.5,1261.3 L552.5,1258.8 L555.5,1256.3 L558.5,1253.8 L561.5,1251.2 L564.5,1248.7 L567.5,1246.2 L570.5,1243.6 L573.5,1241.1 L576.5,1238.5 L579.5,1236.0 L582.5,1233.4 L585.5,1230.8 L588.5,1228.3 L591.5,1225.7 L594.5,1223.1 L597.5,1220.5 L600.5,1217.9 L603.5,1215.3 L606.5,1212.7 L609.5,1210.1 L612.5,1207.5 L615.5,1204.9 L618.5,1202.2 L621.5,1199.6 L624.5,1197.0 L627.5,1194.3 L630.5,1191.7 L633.5,1189.0 L636.5,1186.3 L639.5,1183.7 L642.5,1181.0 L645.5,1178.3 L648.5,1175.7 L651.5,1173.0 L654.5,1170.3 L657.5,1167.6 L660.5,1164.9 L663.5,1162.2 L666.5,1159.5 L669.5,1156.7 L672.5,1154.0 L675.5,1151.3 L678.5,1148.6 L681.5,1145.8 L684.5,1143.1 L687.5,1140.3 L690.5,1137.6 L693.5,1134.8 L696.5,1132.1 L699.5,1129.3 L702.5,1126.5 L705.5,1123.8 L708.5,1121.0 L711.5,1118.2 L714.5,1115.4 L717.5,1112.6 L720.5,1109.8 L723.5,1107.0 L726.5,1104.2 L729.5,1101.4 L732.5,1098.6 L735.5,1095.8 L738.5,1093.0 L741.5,1090.2 L744.5,1087.4 L747.5,1084.5 L750.5,1081.7 L753.5,1078.9 L756.5,1076.0 L759.5,1073.2 L762.5,1070.3 L765.5,1067.5 L768.5,1064.6 L771.5,1061.8 L774.5,1058.9 L777.5,1056.1 L780.5,1053.2 L783.5,1050.4 L786.5,1047.5 L789.5,1044.6 L792.5,1041.8 L795.5,1038.9 L798.5,1036.0 L801.5,1033.1 L804.5,1030.3 L807.5,1027.4 L810.5,1024.5 L813.5,1021.6 L816.5,1018.7 L819.5,1015.9 L822.5,1013.0 L825.5,1010.1 L828.5,1007.2 L831.5,1004.3 L834.5,1001.5 L837.5,998.6 L840.5,995.7 L843.5,992.8 L846.5,989.9 L849.5,987.0 L852.5,984.2 L855.5,981.3 L856.0,980.8" fill="none" stroke-width="3.1" stroke-linejoin="round" stroke-linecap="round"/>
<line x1="856.9" y1="1215.5" x2="857.2" y2="1262.5" stroke="#fff" stroke-opacity="0.55" stroke-width="3.2"/>
<circle cx="856.6" cy="959.0" r="2.2" stroke="none"/>
<circle cx="857.2" cy="980.8" r="2.4" stroke="none"/>
<text x="235.9" y="982.2" font-size="16.3" font-weight="normal" font-style="normal" stroke="#151515" stroke-width="0.3" stroke-linejoin="round" font-family="'Liberation Sans', sans-serif" text-anchor="start" textLength="18.9" lengthAdjust="spacingAndGlyphs" transform="rotate(-0.86 235.9 982.2)" >70</text>
<text x="235.9" y="1054.5" font-size="16.3" font-weight="normal" font-style="normal" stroke="#151515" stroke-width="0.3" stroke-linejoin="round" font-family="'Liberation Sans', sans-serif" text-anchor="start" textLength="18.9" lengthAdjust="spacingAndGlyphs" transform="rotate(-0.86 235.9 1054.5)" >60</text>
<text x="235.9" y="1127.1" font-size="16.3" font-weight="normal" font-style="normal" stroke="#151515" stroke-width="0.3" stroke-linejoin="round" font-family="'Liberation Sans', sans-serif" text-anchor="start" textLength="18.9" lengthAdjust="spacingAndGlyphs" transform="rotate(-0.86 235.9 1127.1)" >50</text>
<text x="235.9" y="1200.1" font-size="16.3" font-weight="normal" font-style="normal" stroke="#151515" stroke-width="0.3" stroke-linejoin="round" font-family="'Liberation Sans', sans-serif" text-anchor="start" textLength="18.9" lengthAdjust="spacingAndGlyphs" transform="rotate(-0.86 235.9 1200.1)" >40</text>
<text x="235.9" y="1272.7" font-size="16.3" font-weight="normal" font-style="normal" stroke="#151515" stroke-width="0.3" stroke-linejoin="round" font-family="'Liberation Sans', sans-serif" text-anchor="start" textLength="18.9" lengthAdjust="spacingAndGlyphs" transform="rotate(-0.86 235.9 1272.7)" >30</text>
<text x="235.9" y="1344.5" font-size="16.3" font-weight="normal" font-style="normal" stroke="#151515" stroke-width="0.3" stroke-linejoin="round" font-family="'Liberation Sans', sans-serif" text-anchor="start" textLength="18.9" lengthAdjust="spacingAndGlyphs" transform="rotate(-0.86 235.9 1344.5)" >20</text>
<text x="928.4" y="914.3" font-size="16.3" font-weight="normal" font-style="normal" stroke="#151515" stroke-width="0.3" stroke-linejoin="round" font-family="'Liberation Sans', sans-serif" text-anchor="start" textLength="27.6" lengthAdjust="spacingAndGlyphs" transform="rotate(-0.86 928.4 914.3)" >110</text>
<text x="928.6" y="965.5" font-size="16.3" font-weight="normal" font-style="normal" stroke="#151515" stroke-width="0.3" stroke-linejoin="round" font-family="'Liberation Sans', sans-serif" text-anchor="start" textLength="27.6" lengthAdjust="spacingAndGlyphs" transform="rotate(-0.86 928.6 965.5)" >100</text>
<text x="928.8" y="1016.6" font-size="16.3" font-weight="normal" font-style="normal" stroke="#151515" stroke-width="0.3" stroke-linejoin="round" font-family="'Liberation Sans', sans-serif" text-anchor="start" textLength="18.9" lengthAdjust="spacingAndGlyphs" transform="rotate(-0.86 928.8 1016.6)" >90</text>
<text x="929.0" y="1067.0" font-size="16.3" font-weight="normal" font-style="normal" stroke="#151515" stroke-width="0.3" stroke-linejoin="round" font-family="'Liberation Sans', sans-serif" text-anchor="start" textLength="18.9" lengthAdjust="spacingAndGlyphs" transform="rotate(-0.86 929.0 1067.0)" >80</text>
<text x="929.2" y="1118.4" font-size="16.3" font-weight="normal" font-style="normal" stroke="#151515" stroke-width="0.3" stroke-linejoin="round" font-family="'Liberation Sans', sans-serif" text-anchor="start" textLength="18.9" lengthAdjust="spacingAndGlyphs" transform="rotate(-0.86 929.2 1118.4)" >70</text>
<text x="929.4" y="1169.2" font-size="16.3" font-weight="normal" font-style="normal" stroke="#151515" stroke-width="0.3" stroke-linejoin="round" font-family="'Liberation Sans', sans-serif" text-anchor="start" textLength="18.9" lengthAdjust="spacingAndGlyphs" transform="rotate(-0.86 929.4 1169.2)" >60</text>
<text x="929.6" y="1220.2" font-size="16.3" font-weight="normal" font-style="normal" stroke="#151515" stroke-width="0.3" stroke-linejoin="round" font-family="'Liberation Sans', sans-serif" text-anchor="start" textLength="18.9" lengthAdjust="spacingAndGlyphs" transform="rotate(-0.86 929.6 1220.2)" >50</text>
<text x="929.8" y="1271.6" font-size="16.3" font-weight="normal" font-style="normal" stroke="#151515" stroke-width="0.3" stroke-linejoin="round" font-family="'Liberation Sans', sans-serif" text-anchor="start" textLength="18.9" lengthAdjust="spacingAndGlyphs" transform="rotate(-0.86 929.8 1271.6)" >40</text>
<text x="930.0" y="1322.3" font-size="16.3" font-weight="normal" font-style="normal" stroke="#151515" stroke-width="0.3" stroke-linejoin="round" font-family="'Liberation Sans', sans-serif" text-anchor="start" textLength="18.9" lengthAdjust="spacingAndGlyphs" transform="rotate(-0.86 930.0 1322.3)" >30</text>
<text x="930.2" y="1372.9" font-size="16.3" font-weight="normal" font-style="normal" stroke="#151515" stroke-width="0.3" stroke-linejoin="round" font-family="'Liberation Sans', sans-serif" text-anchor="start" textLength="18.9" lengthAdjust="spacingAndGlyphs" transform="rotate(-0.86 930.2 1372.9)" >20</text>
<text x="221.7" y="907.6" font-size="16.5" font-weight="normal" font-style="normal" stroke="#151515" stroke-width="0.3" stroke-linejoin="round" font-family="'Liberation Sans', sans-serif" text-anchor="start" textLength="25.4" lengthAdjust="spacingAndGlyphs" transform="rotate(-0.86 221.7 907.6)" >kW</text>
<text x="932.8" y="889.7" font-size="16" font-weight="normal" font-style="normal" stroke="#151515" stroke-width="0.3" stroke-linejoin="round" font-family="'Liberation Sans', sans-serif" text-anchor="start" textLength="18.8" lengthAdjust="spacingAndGlyphs" transform="rotate(-0.86 932.8 889.7)" >hp</text>
<text x="552.8" y="895.9" font-size="19.6" font-weight="normal" font-style="normal" stroke="#151515" stroke-width="0.9" stroke-linejoin="round" font-family="'Liberation Sans', sans-serif" text-anchor="start" textLength="76.4" lengthAdjust="spacingAndGlyphs" transform="rotate(-0.86 552.8 895.9)" >OUTPUT</text>
<text x="385.4" y="973.3" font-size="16.5" font-weight="normal" font-style="normal" stroke="#151515" stroke-width="0.3" stroke-linejoin="round" font-family="'Liberation Sans', sans-serif" text-anchor="start" textLength="128.4" lengthAdjust="spacingAndGlyphs" transform="rotate(-0.86 385.4 973.3)" >Max. output w/o</text>
<text x="385.6" y="993.2" font-size="16.5" font-weight="normal" font-style="normal" stroke="#151515" stroke-width="0.3" stroke-linejoin="round" font-family="'Liberation Sans', sans-serif" text-anchor="start" textLength="95.9" lengthAdjust="spacingAndGlyphs" transform="rotate(-0.86 385.6 993.2)" >marine gear</text>
<text x="545.3" y="1064.4" font-size="16.5" font-weight="normal" font-style="normal" stroke="#151515" stroke-width="0.3" stroke-linejoin="round" font-family="'Liberation Sans', sans-serif" text-anchor="start" textLength="132.9" lengthAdjust="spacingAndGlyphs" transform="rotate(-0.86 545.3 1064.4)" >Max. output with</text>
<text x="544.6" y="1084.2" font-size="16.5" font-weight="normal" font-style="normal" stroke="#151515" stroke-width="0.3" stroke-linejoin="round" font-family="'Liberation Sans', sans-serif" text-anchor="start" textLength="96.3" lengthAdjust="spacingAndGlyphs" transform="rotate(-0.86 544.6 1084.2)" >marine gear</text>
<text x="655.5" y="1231.9" font-size="16.5" font-weight="normal" font-style="normal" stroke="#151515" stroke-width="0.3" stroke-linejoin="round" font-family="'Liberation Sans', sans-serif" text-anchor="start" textLength="178.8" lengthAdjust="spacing" transform="rotate(-0.86 655.5 1231.9)" >Propeller power curve</text>
<text x="250.6" y="1407.5" font-size="15.8" font-weight="normal" font-style="normal" stroke="#151515" stroke-width="0.3" stroke-linejoin="round" font-family="'Liberation Sans', sans-serif" text-anchor="start" textLength="35.6" lengthAdjust="spacingAndGlyphs" transform="rotate(-0.86 250.6 1407.5)" >1800</text>
<text x="309.3" y="1406.3" font-size="15.8" font-weight="normal" font-style="normal" stroke="#151515" stroke-width="0.3" stroke-linejoin="round" font-family="'Liberation Sans', sans-serif" text-anchor="start" textLength="35.6" lengthAdjust="spacingAndGlyphs" transform="rotate(-0.86 309.3 1406.3)" >2000</text>
<text x="368.9" y="1405.5" font-size="15.8" font-weight="normal" font-style="normal" stroke="#151515" stroke-width="0.3" stroke-linejoin="round" font-family="'Liberation Sans', sans-serif" text-anchor="start" textLength="35.6" lengthAdjust="spacingAndGlyphs" transform="rotate(-0.86 368.9 1405.5)" >2200</text>
<text x="428.4" y="1404.6" font-size="15.8" font-weight="normal" font-style="normal" stroke="#151515" stroke-width="0.3" stroke-linejoin="round" font-family="'Liberation Sans', sans-serif" text-anchor="start" textLength="35.6" lengthAdjust="spacingAndGlyphs" transform="rotate(-0.86 428.4 1404.6)" >2400</text>
<text x="487.7" y="1404.3" font-size="15.8" font-weight="normal" font-style="normal" stroke="#151515" stroke-width="0.3" stroke-linejoin="round" font-family="'Liberation Sans', sans-serif" text-anchor="start" textLength="35.6" lengthAdjust="spacingAndGlyphs" transform="rotate(-0.86 487.7 1404.3)" >2600</text>
<text x="546.1" y="1403.8" font-size="15.8" font-weight="normal" font-style="normal" stroke="#151515" stroke-width="0.3" stroke-linejoin="round" font-family="'Liberation Sans', sans-serif" text-anchor="start" textLength="35.6" lengthAdjust="spacingAndGlyphs" transform="rotate(-0.86 546.1 1403.8)" >2800</text>
<text x="605.4" y="1403.0" font-size="15.8" font-weight="normal" font-style="normal" stroke="#151515" stroke-width="0.3" stroke-linejoin="round" font-family="'Liberation Sans', sans-serif" text-anchor="start" textLength="35.6" lengthAdjust="spacingAndGlyphs" transform="rotate(-0.86 605.4 1403.0)" >3000</text>
<text x="665.1" y="1401.8" font-size="15.8" font-weight="normal" font-style="normal" stroke="#151515" stroke-width="0.3" stroke-linejoin="round" font-family="'Liberation Sans', sans-serif" text-anchor="start" textLength="35.6" lengthAdjust="spacingAndGlyphs" transform="rotate(-0.86 665.1 1401.8)" >3200</text>
<text x="724.4" y="1400.8" font-size="15.8" font-weight="normal" font-style="normal" stroke="#151515" stroke-width="0.3" stroke-linejoin="round" font-family="'Liberation Sans', sans-serif" text-anchor="start" textLength="35.6" lengthAdjust="spacingAndGlyphs" transform="rotate(-0.86 724.4 1400.8)" >3400</text>
<text x="783.7" y="1400.1" font-size="15.8" font-weight="normal" font-style="normal" stroke="#151515" stroke-width="0.3" stroke-linejoin="round" font-family="'Liberation Sans', sans-serif" text-anchor="start" textLength="35.6" lengthAdjust="spacingAndGlyphs" transform="rotate(-0.86 783.7 1400.1)" >3600</text>
<text x="842.6" y="1399.6" font-size="15.8" font-weight="normal" font-style="normal" stroke="#151515" stroke-width="0.3" stroke-linejoin="round" font-family="'Liberation Sans', sans-serif" text-anchor="start" textLength="35.6" lengthAdjust="spacingAndGlyphs" transform="rotate(-0.86 842.6 1399.6)" >3800</text>
<text x="901.9" y="1399.1" font-size="15.8" font-weight="normal" font-style="normal" stroke="#151515" stroke-width="0.3" stroke-linejoin="round" font-family="'Liberation Sans', sans-serif" text-anchor="start" textLength="35.6" lengthAdjust="spacingAndGlyphs" transform="rotate(-0.86 901.9 1399.1)" >4000</text>
<text x="456.1" y="1457.6" font-size="19.4" font-weight="normal" font-style="normal" stroke="#151515" stroke-width="1.0" stroke-linejoin="round" font-family="'Liberation Sans', sans-serif" text-anchor="start" textLength="226.3" lengthAdjust="spacingAndGlyphs" transform="rotate(-0.5 456.1 1457.6)" >SPEED OF CRANKSHAFT</text>
<text x="686.6" y="1455.4" font-size="19.4" font-weight="normal" font-style="normal" stroke="#151515" stroke-width="1.0" stroke-linejoin="round" font-family="'Liberation Sans', sans-serif" text-anchor="start" transform="rotate(-0.5 686.6 1455.4)" >:</text>
<text x="705.4" y="1455.3" font-size="19.4" font-weight="normal" font-style="normal" stroke="#151515" stroke-width="1.0" stroke-linejoin="round" font-family="'Liberation Sans', sans-serif" text-anchor="start" textLength="33.1" lengthAdjust="spacingAndGlyphs" transform="rotate(-0.5 705.4 1455.3)" >rpm</text>
<text x="584.0" y="1621.8" font-size="20.5" font-weight="normal" font-style="normal" stroke="#151515" stroke-width="0.1" stroke-linejoin="round" font-family="'Liberation Serif', sans-serif" text-anchor="start" transform="rotate(0 584.0 1621.8)" >2</text>
<text x="622.8" y="1621.8" font-size="20.5" font-weight="normal" font-style="normal" stroke="#151515" stroke-width="0.1" stroke-linejoin="round" font-family="'Liberation Serif', sans-serif" text-anchor="start" transform="rotate(0 622.8 1621.8)" >9</text>
<text x="990.0" y="1652.3" font-size="16.5" font-weight="normal" font-style="normal" stroke="#151515" stroke-width="0.15" stroke-linejoin="round" font-family="'Liberation Serif', sans-serif" text-anchor="start" textLength="118.6" lengthAdjust="spacingAndGlyphs" transform="rotate(0 990.0 1652.3)" >HINSHI&#160;&#160;H10-009</text>
<line x1="600.3" y1="1615.9" x2="607.2" y2="1615.9" stroke-width="1.3" />
<line x1="609.2" y1="1615.9" x2="616.4" y2="1615.9" stroke-width="1.3" />
</svg>
</body>
</html>
